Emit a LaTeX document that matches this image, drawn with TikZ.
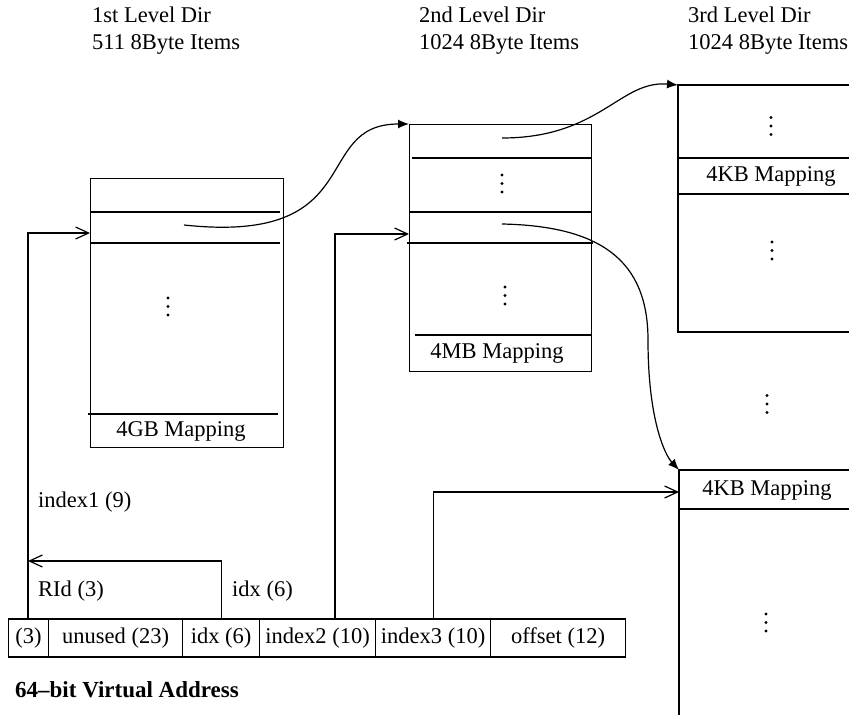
\documentclass[tikz,border=0pt]{standalone}
\usepackage{fontspec}
\setmainfont{Liberation Serif}
\usetikzlibrary{arrows.meta}
\newcommand\mydots[2]{\foreach \d in {-1,0,1}{\fill (#1,#2+\d*8.5) circle (1.7bp);}}
\begin{document}
\begin{tikzpicture}[x=1bp,y=-1bp,
  every node/.style={font=\fontsize{22.5bp}{27bp}\selectfont, inner sep=0pt},
  ln/.style={line width=1.2bp},
  sep/.style={line width=1.5bp},
  boxnode/.style={draw, line width=1.2bp, anchor=north west},
  cell/.style={draw, line width=1.2bp, anchor=west, minimum height=38bp},
  openarr/.style={line width=1.2bp, -{Straight Barb[length=13bp,width=12bp]}},
  fillarr/.style={line width=1.2bp, -{Latex[length=11bp,width=9bp]}},
  lbl/.style={anchor=base west}]
\useasboundingbox (0,0) rectangle (849,715);

% headers
\node[lbl] (h1a) at (92,23) {1st Level Dir};
\node[lbl] (h1b) at (92,50) {511 8Byte Items};
\node[lbl] (h2a) at (419,23) {2nd Level Dir};
\node[lbl] (h2b) at (419,50) {1024 8Byte Items};
\node[lbl] (h3a) at (688,23) {3rd Level Dir};
\node[lbl] (h3b) at (688,50) {1024 8Byte Items};

% first level dir
\node[boxnode, minimum width=193bp, minimum height=269bp] (b1) at (90,178) {};
\draw[sep] (90,212) -- (280,212);
\draw[sep] (90,243) -- (280,243);
\draw[ln] (88,414) -- (278,414);
\node (m1) at (181,431) {4GB Mapping};
\mydots{168}{306.5}

% second level dir
\node[boxnode, minimum width=182bp, minimum height=247bp] (b2) at (409,124) {};
\draw[ln] (412,158) -- (591,158);
\draw[ln] (409,212) -- (591,212);
\draw[sep] (407,243) -- (593,243);
\draw[ln] (415,335) -- (591,335);
\node (m2) at (497,353) {4MB Mapping};
\mydots{502}{183.5}
\mydots{505}{295.5}

% third level dir (upper)
\coordinate (b3) at (678,85);
\draw[ln] (849,85) -- (b3) -- (678,332) -- (849,332);
\draw[ln] (678,158) -- (849,158);
\draw[ln] (678,194) -- (849,194);
\node (m3) at (771,176) {4KB Mapping};
\mydots{771}{126}
\mydots{772}{250.5}
\mydots{767}{404}

% third level dir (lower)
\coordinate (b4) at (679,470);
\draw[ln] (849,470) -- (b4) -- (679,715);
\draw[ln] (679,509) -- (849,509);
\node (m4) at (767,490) {4KB Mapping};
\mydots{766}{622.5}

% address
\node[cell, minimum width=40bp] (c0) at (8,638) {(3)};
\node[cell, minimum width=134bp] (c1) at (48,638) {unused (23)};
\node[cell, minimum width=77bp] (c2) at (182,638) {idx (6)};
\node[cell, minimum width=116bp] (c3) at (259,638) {index2 (10)};
\node[cell, minimum width=115bp] (c4) at (375,638) {index3 (10)};
\node[cell, minimum width=135bp] (c5) at (490,638) {offset (12)};
\node[anchor=base west, font=\fontsize{23bp}{27bp}\selectfont\bfseries] (title) at (15,697) {64–bit Virtual Address};

\node[lbl] (l1) at (38,507) {index1 (9)};
\node[lbl] (l2) at (38,596) {RId (3)};
\node[lbl] (l3) at (232,596) {idx (6)};

% connectors
\coordinate (rid) at (28,619);
\coordinate (b1in) at (90,233);
\coordinate (ridj) at (28,561);
\coordinate (i2) at (335,619);
\coordinate (b2in) at (409,234);
\coordinate (b3in) at (679,492);
\draw[openarr] (rid) |- (b1in);
\draw[openarr] (c2.north) |- (ridj);
\draw[openarr] (i2) |- (b2in);
\draw[openarr] (c4.north) |- (b3in);

\coordinate (e1) at (184,225);
\coordinate (e2) at (502,138);
\coordinate (e3) at (502,224);
\draw[fillarr] (e1) .. controls (370,245) and (310,124) .. (b2.north west);
\draw[fillarr] (e2) .. controls (600,138) and (620,80) .. (b3);
\draw[fillarr] (e3) .. controls (600,226) and (648,260) .. (648,340) .. controls (648,420) and (665,455) .. (b4);
\end{tikzpicture}
\end{document}
